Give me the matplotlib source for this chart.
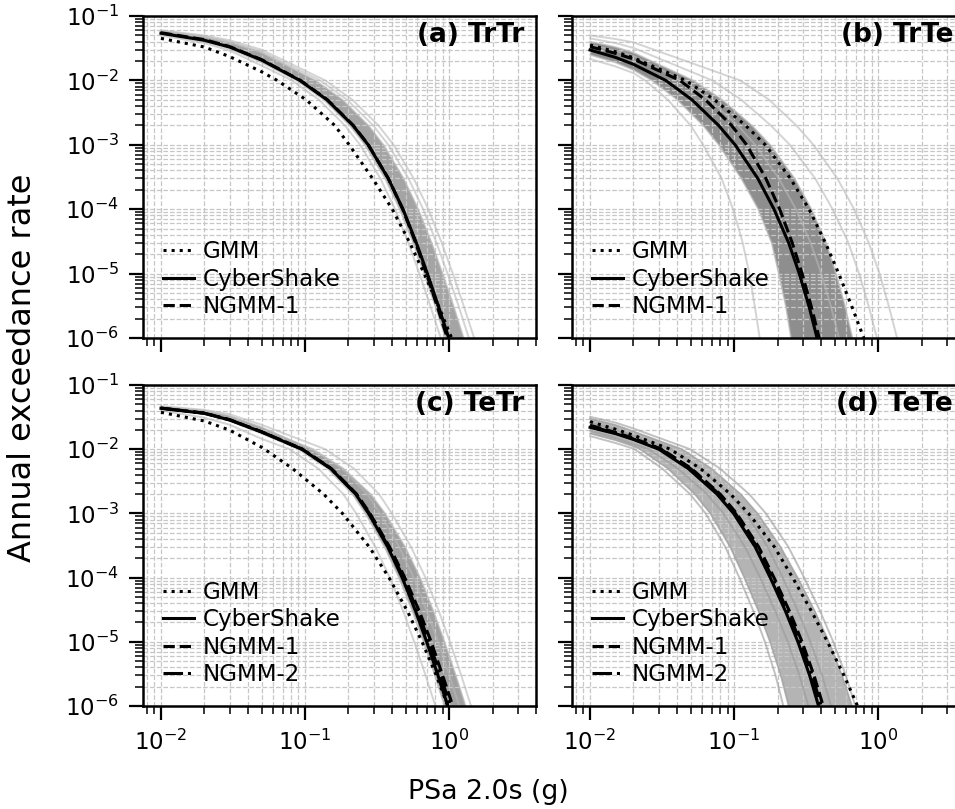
import numpy as np
import matplotlib.pyplot as plt

# exceedance levels used for the lower part of every hazard curve
levels = [1e-2, 5e-3, 2e-3, 1e-3, 3e-4, 1e-4, 3e-5, 1e-5, 3e-6, 1e-6, 3e-7]

# (a) TrTr : y values at xtop, then x values at the levels above
xtop_a = [0.01, 0.02, 0.03, 0.05]
gmm_a_top = [0.045, 0.033, 0.0234, 0.0136]
gmm_a_x = [0.064, 0.1017, 0.1607, 0.2023, 0.294, 0.403, 0.533, 0.67, 0.85, 1.04, 1.29]
cs_a_top = [0.054, 0.042, 0.033, 0.0207]
cs_a_x = [0.092, 0.142, 0.215, 0.274, 0.378, 0.478, 0.592, 0.706, 0.847, 0.993, 1.178]
ng1_a_top = [0.055, 0.043, 0.0335, 0.021]
ng1_a_x = [0.093, 0.143, 0.216, 0.275, 0.378, 0.476, 0.585, 0.695, 0.83, 0.97, 1.15]
band_a_lo_top = [0.052, 0.040, 0.031, 0.019]
band_a_lo_x = [0.0874, 0.135, 0.204, 0.26, 0.359, 0.454, 0.562, 0.671, 0.805, 0.943, 1.12]
band_a_hi_top = [0.058, 0.047, 0.039, 0.027]
band_a_hi_x = [0.118, 0.182, 0.275, 0.35, 0.483, 0.61, 0.756, 0.9, 1.08, 1.26, 1.5]
fringe_a_top = [[0.06, 0.05, 0.042, 0.03], [0.05, 0.038, 0.029, 0.017], [0.059, 0.048, 0.04, 0.028]]
fringe_a_x = [[0.138, 0.213, 0.323, 0.411, 0.567, 0.717, 0.888, 1.06, 1.27, 1.49, 1.77],
              [0.081, 0.125, 0.189, 0.241, 0.333, 0.421, 0.521, 0.621, 0.745, 0.874, 1.04],
              [0.127, 0.196, 0.297, 0.378, 0.522, 0.66, 0.817, 0.974, 1.17, 1.37, 1.63]]

# (b) TrTe
xtop_b = [0.01, 0.015, 0.02]
gmm_b_top = [0.0355, 0.028, 0.0225]
gmm_b_x = [0.046, 0.0731, 0.12, 0.1644, 0.2456, 0.3309, 0.4302, 0.5317, 0.6583, 0.7936, 0.9623]
cs_b_top = [0.0297, 0.0228, 0.0178]
cs_b_x = [0.0335, 0.051, 0.078, 0.1015, 0.146, 0.189, 0.239, 0.283, 0.332, 0.376, 0.425]
ng1_b_top = [0.0334, 0.0263, 0.0215]
ng1_b_x = [0.042, 0.0632, 0.096, 0.122, 0.166, 0.207, 0.253, 0.296, 0.344, 0.389, 0.439]
band_b_lo_top = [0.025, 0.019, 0.0145]
band_b_lo_x = [0.0268, 0.0403, 0.0608, 0.0782, 0.112, 0.147, 0.182, 0.204, 0.229, 0.248, 0.272]
band_b_hi_top = [0.04, 0.033, 0.027]
band_b_hi_x = [0.0519, 0.0826, 0.1326, 0.1776, 0.2628, 0.344, 0.435, 0.509, 0.591, 0.662, 0.74]
fringe_b_top = [[0.045, 0.038, 0.032], [0.05, 0.044, 0.039], [0.0215, 0.0165, 0.013], [0.036, 0.029, 0.024]]
fringe_b_x = [[0.0704, 0.1122, 0.1794, 0.2436, 0.365, 0.482, 0.621, 0.736, 0.863, 0.978, 1.105],
              [0.11, 0.175, 0.27, 0.355, 0.52, 0.68, 0.86, 1.02, 1.19, 1.35, 1.52],
              [0.0241, 0.0347, 0.0499, 0.0609, 0.0818, 0.0983, 0.1147, 0.1274, 0.1394, 0.1504, 0.1615],
              [0.0436, 0.0673, 0.1061, 0.1401, 0.2044, 0.2684, 0.3394, 0.4018, 0.4714, 0.5339, 0.6035]]

# (c) TeTr
xtop_c = [0.01, 0.02, 0.03, 0.05]
gmm_c_top = [0.0376, 0.0275, 0.0198, 0.0107]
gmm_c_x = [0.0524, 0.0818, 0.1344, 0.1816, 0.279, 0.382, 0.513, 0.648, 0.814, 0.979, 1.177]
cs_c_top = [0.0434, 0.0362, 0.0285, 0.0185]
cs_c_x = [0.095, 0.1506, 0.2246, 0.2758, 0.375, 0.472, 0.585, 0.698, 0.836, 0.978, 1.156]
ng1_c_top = [0.0437, 0.0365, 0.0288, 0.0187]
ng1_c_x = [0.096, 0.152, 0.228, 0.282, 0.386, 0.492, 0.62, 0.75, 0.9, 1.06, 1.25]
ng2_c_top = [0.0436, 0.0364, 0.0287, 0.0186]
ng2_c_x = [0.0955, 0.151, 0.226, 0.279, 0.38, 0.482, 0.603, 0.725, 0.868, 1.02, 1.2]
band_c_lo_top = [0.042, 0.035, 0.0275, 0.0175]
band_c_lo_x = [0.09, 0.143, 0.213, 0.262, 0.356, 0.448, 0.556, 0.663, 0.794, 0.929, 1.098]
band_c_hi_top = [0.046, 0.04, 0.033, 0.022]
band_c_hi_x = [0.111, 0.184, 0.285, 0.359, 0.495, 0.628, 0.778, 0.928, 1.112, 1.301, 1.537]
fringe_c_top = [[0.047, 0.041, 0.035, 0.024], [0.04, 0.031, 0.024, 0.0145], [0.045, 0.038, 0.031, 0.02]]
fringe_c_x = [[0.138, 0.218, 0.326, 0.4, 0.544, 0.684, 0.848, 1.012, 1.212, 1.418, 1.676],
              [0.078, 0.1235, 0.184, 0.226, 0.3075, 0.387, 0.48, 0.572, 0.686, 0.802, 0.948],
              [0.114, 0.181, 0.27, 0.331, 0.45, 0.566, 0.702, 0.838, 1.003, 1.174, 1.387]]

# (d) TeTe
xtop_d = [0.01, 0.015, 0.02]
gmm_d_top = [0.0269, 0.0205, 0.0165]
gmm_d_x = [0.036, 0.0583, 0.0944, 0.1259, 0.1903, 0.2545, 0.3439, 0.4441, 0.5779, 0.7185, 0.9022]
cs_d_top = [0.0219, 0.0175, 0.0142]
cs_d_x = [0.03, 0.048, 0.076, 0.099, 0.14, 0.178, 0.227, 0.277, 0.334, 0.385, 0.445]
ng1_d_top = [0.0236, 0.0183, 0.0148]
ng1_d_x = [0.0315, 0.0505, 0.08, 0.104, 0.148, 0.189, 0.242, 0.296, 0.358, 0.415, 0.48]
ng2_d_top = [0.0229, 0.0178, 0.0144]
ng2_d_x = [0.031, 0.0497, 0.0785, 0.102, 0.144, 0.184, 0.235, 0.288, 0.348, 0.402, 0.465]
band_d_lo_top = [0.0175, 0.0138, 0.0111]
band_d_lo_x = [0.0222, 0.0346, 0.0532, 0.0683, 0.0938, 0.1175, 0.1476, 0.1773, 0.2104, 0.2387, 0.2715]
band_d_hi_top = [0.03, 0.024, 0.019]
band_d_hi_x = [0.0435, 0.0696, 0.111, 0.1455, 0.21, 0.2759, 0.3632, 0.4543, 0.5611, 0.6584, 0.7743]
fringe_d_top = [[0.032, 0.026, 0.021], [0.016, 0.0125, 0.0102], [0.026, 0.0202, 0.0162], [0.0195, 0.015, 0.012]]
fringe_d_x = [[0.0495, 0.0797, 0.127, 0.166, 0.238, 0.306, 0.395, 0.487, 0.595, 0.693, 0.81],
              [0.0204, 0.0317, 0.0494, 0.0634, 0.0868, 0.1086, 0.1362, 0.1634, 0.1937, 0.2194, 0.2536],
              [0.0366, 0.0586, 0.0927, 0.1208, 0.1708, 0.2172, 0.2769, 0.338, 0.4075, 0.4697, 0.5429],
              [0.0255, 0.0408, 0.0646, 0.0842, 0.119, 0.1513, 0.193, 0.2355, 0.2839, 0.3273, 0.3783]]

titles = ['(a) TrTr', '(b) TrTe', '(c) TeTr', '(d) TeTe']


def curve(xtop, ytop, xlow):
    return list(xtop) + list(xlow), list(ytop) + levels


def draw_panel(ax, xtop, band, fringes, black, band_shade, fringe_shade):
    lo = curve(xtop, band[0], band[1])
    hi = curve(xtop, band[2], band[3])
    ax.fill(lo[0] + hi[0][::-1], lo[1] + hi[1][::-1], color=band_shade, lw=0)
    for xs, ys in [lo, hi]:
        ax.plot(xs, ys, color=fringe_shade, alpha=0.7, lw=1.2)
    for ft, fx in zip(fringes[0], fringes[1]):
        xs, ys = curve(xtop, ft, fx)
        ax.plot(xs, ys, color=fringe_shade, alpha=0.6, lw=1.4)
    styles = {'GMM': ':', 'CyberShake': '-', 'NGMM-1': '--', 'NGMM-2': '-.'}
    for name, top, low in black:
        xs, ys = curve(xtop, top, low)
        ax.plot(xs, ys, color='black', ls=styles[name], lw=2.2, label=name)


fig = plt.figure(figsize=(9.55, 8.09), dpi=100)
ax_a = fig.add_axes([0.1497, 0.5822, 0.4115, 0.398])
ax_b = fig.add_axes([0.599, 0.5822, 0.4115, 0.398])
ax_c = fig.add_axes([0.1497, 0.1273, 0.4115, 0.3968])
ax_d = fig.add_axes([0.599, 0.1273, 0.4115, 0.3968])
axes = [ax_a, ax_b, ax_c, ax_d]

draw_panel(ax_a, xtop_a, (band_a_lo_top, band_a_lo_x, band_a_hi_top, band_a_hi_x),
           (fringe_a_top, fringe_a_x),
           [('GMM', gmm_a_top, gmm_a_x), ('CyberShake', cs_a_top, cs_a_x), ('NGMM-1', ng1_a_top, ng1_a_x)],
           '#a4a4a4', '0.72')
draw_panel(ax_b, xtop_b, (band_b_lo_top, band_b_lo_x, band_b_hi_top, band_b_hi_x),
           (fringe_b_top, fringe_b_x),
           [('GMM', gmm_b_top, gmm_b_x), ('CyberShake', cs_b_top, cs_b_x), ('NGMM-1', ng1_b_top, ng1_b_x)],
           '#8e8e8e', '0.72')
draw_panel(ax_c, xtop_c, (band_c_lo_top, band_c_lo_x, band_c_hi_top, band_c_hi_x),
           (fringe_c_top, fringe_c_x),
           [('GMM', gmm_c_top, gmm_c_x), ('CyberShake', cs_c_top, cs_c_x), ('NGMM-1', ng1_c_top, ng1_c_x),
            ('NGMM-2', ng2_c_top, ng2_c_x)],
           '#a0a0a0', '0.72')
draw_panel(ax_d, xtop_d, (band_d_lo_top, band_d_lo_x, band_d_hi_top, band_d_hi_x),
           (fringe_d_top, fringe_d_x),
           [('GMM', gmm_d_top, gmm_d_x), ('CyberShake', cs_d_top, cs_d_x), ('NGMM-1', ng1_d_top, ng1_d_x),
            ('NGMM-2', ng2_d_top, ng2_d_x)],
           '#b4b4b4', '0.6')

for i, ax in enumerate(axes):
    ax.set_xscale('log')
    ax.set_yscale('log')
    ax.set_xlim(0.0075, 4.0)
    ax.set_ylim(1e-6, 1e-1)
    ax.grid(True, which='both', ls='--', color='0.78', lw=0.9)
    for sp in ax.spines.values():
        sp.set_linewidth(1.8)
    ax.tick_params(which='major', length=10, width=1.6, labelsize=16.5, pad=7)
    ax.tick_params(which='minor', length=6, width=1.1)
    ax.text(0.97, 0.982, titles[i], transform=ax.transAxes, ha='right', va='top',
            fontsize=19, fontweight='bold')
    ax.legend(loc='lower left', frameon=False, fontsize=16.6, handlelength=1.35,
              handletextpad=0.4, labelspacing=0.2, borderaxespad=0.45)
    if i in (1, 3):
        ax.tick_params(labelleft=False)
    if i in (0, 1):
        ax.tick_params(labelbottom=False)

fig.text(0.511, 1 - 792 / 809, 'PSa 2.0s (g)', ha='center', va='center', fontsize=19.3)
fig.text(0.024, 0.546, 'Annual exceedance rate', ha='center', va='center', rotation=90, fontsize=23)

fig.savefig('out.png', dpi=100)
